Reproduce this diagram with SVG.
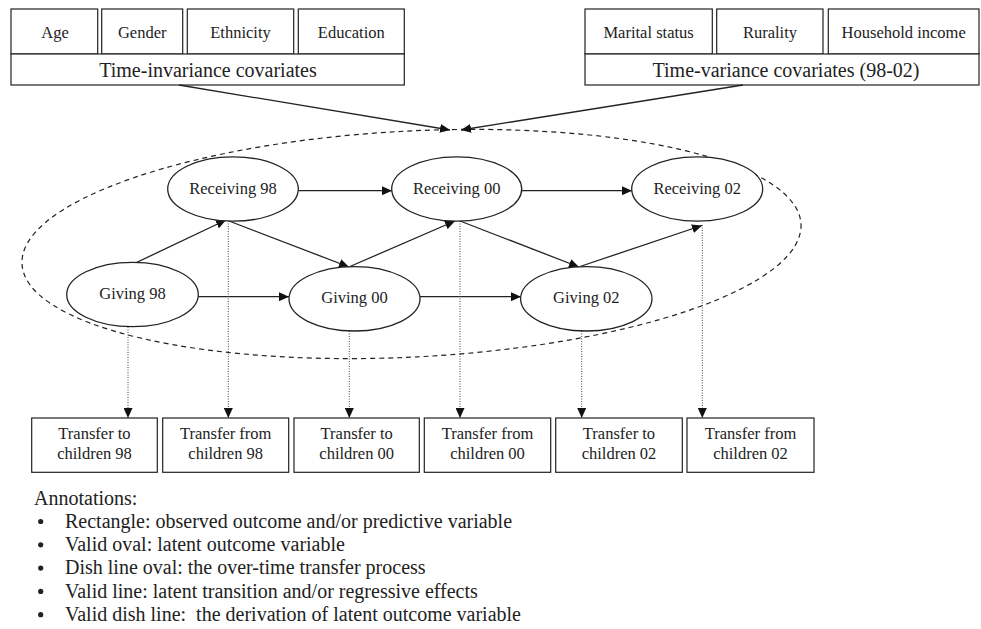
<svg xmlns="http://www.w3.org/2000/svg" width="981" height="629" viewBox="0 0 981 629">
<style>
  .box { fill: #fff; stroke: #222; stroke-width: 1.2; }
  .node { fill: #fff; stroke: #222; stroke-width: 1.3; }
  .t { font-family: "Liberation Serif", "Times New Roman", serif; fill: #222; text-anchor: middle; }
  .s { font-size: 16.5px; }
  .l { font-size: 20px; }
  .ann { font-family: "Liberation Serif", "Times New Roman", serif; fill: #222; font-size: 20px; white-space: pre; }
  .edge { stroke: #222; stroke-width: 1.3; fill: none; marker-end: url(#arr); }
  .dot { stroke: #444; stroke-width: 1; stroke-dasharray: 1 1.5; fill: none; marker-end: url(#arr); }
  .proc { fill: none; stroke: #222; stroke-width: 1.2; stroke-dasharray: 5 4; }
</style>
<defs>
  <marker id="arr" markerUnits="userSpaceOnUse" markerWidth="11" markerHeight="9" refX="10" refY="4.5" orient="auto">
    <path d="M0,0 L10,4.5 L0,9 Z" fill="#111"/>
  </marker>
</defs>
<rect width="981" height="629" fill="#fff"/>

<!-- Over-time transfer process (dashed oval) -->
<ellipse id="process" class="proc" cx="411.5" cy="244" rx="390" ry="113" transform="rotate(-2.94 411.5 244)"/>

<!-- Time-invariance covariates -->
<g id="time-invariance">
  <rect class="box" x="11" y="9" width="86.7" height="45"/>
  <rect class="box" x="101.7" y="9" width="81" height="45"/>
  <rect class="box" x="187.3" y="9" width="106.4" height="45"/>
  <rect class="box" x="298.3" y="9" width="106" height="45"/>
  <rect class="box" x="11" y="54" width="393.3" height="31"/>
  <text class="t s" x="55" y="38">Age</text>
  <text class="t s" x="142.2" y="38">Gender</text>
  <text class="t s" x="240.5" y="38">Ethnicity</text>
  <text class="t s" x="351.3" y="38">Education</text>
  <text class="t l" x="208" y="77">Time-invariance covariates</text>
</g>

<!-- Time-variance covariates -->
<g id="time-variance">
  <rect class="box" x="585" y="9" width="127.3" height="45"/>
  <rect class="box" x="716.7" y="9" width="106.3" height="45"/>
  <rect class="box" x="828.3" y="9" width="150.7" height="45"/>
  <rect class="box" x="585" y="54" width="394" height="31"/>
  <text class="t s" x="648.6" y="38">Marital status</text>
  <text class="t s" x="770" y="38">Rurality</text>
  <text class="t s" x="903.7" y="38">Household income</text>
  <text class="t l" x="786" y="77">Time-variance covariates (98-02)</text>
</g>

<!-- Connectors -->
<g id="connectors">
  <line class="edge" x1="179" y1="85" x2="450" y2="130"/>
  <line class="edge" x1="743" y1="85" x2="461" y2="130"/>
  <line class="edge" x1="298.5" y1="190.7" x2="392" y2="190.7"/>
  <line class="edge" x1="522" y1="190.7" x2="632" y2="190.7"/>
  <line class="edge" x1="198.5" y1="296.7" x2="289" y2="296.7"/>
  <line class="edge" x1="420" y1="296.7" x2="521" y2="296.7"/>
  <line class="edge" x1="127" y1="267" x2="226" y2="220"/>
  <line class="edge" x1="229" y1="221" x2="349" y2="267"/>
  <line class="edge" x1="350" y1="266.5" x2="455" y2="221"/>
  <line class="edge" x1="460" y1="221" x2="579" y2="267"/>
  <line class="edge" x1="580" y1="266.5" x2="702" y2="225.5"/>
  <line class="dot" x1="128" y1="327" x2="128" y2="418"/>
  <line class="dot" x1="228.3" y1="221" x2="228.3" y2="418"/>
  <line class="dot" x1="349.3" y1="331" x2="349.3" y2="418"/>
  <line class="dot" x1="460" y1="221" x2="460" y2="418"/>
  <line class="dot" x1="581.7" y1="331" x2="581.7" y2="418"/>
  <line class="dot" x1="702.3" y1="225" x2="702.3" y2="418"/>
</g>

<!-- Latent nodes -->
<g id="receiving98"><ellipse class="node" cx="233" cy="189" rx="65.3" ry="32.2"/><text class="t s" x="233" y="193.5">Receiving 98</text></g>
<g id="receiving00"><ellipse class="node" cx="456.7" cy="189" rx="65" ry="32.2"/><text class="t s" x="456.7" y="193.5">Receiving 00</text></g>
<g id="receiving02"><ellipse class="node" cx="697.2" cy="189" rx="65.5" ry="32.2"/><text class="t s" x="697.2" y="193.5">Receiving 02</text></g>
<g id="giving98"><ellipse class="node" cx="132.5" cy="294.5" rx="65.8" ry="32.2"/><text class="t s" x="132.5" y="299">Giving 98</text></g>
<g id="giving00"><ellipse class="node" cx="354.5" cy="298.8" rx="65.5" ry="32.2"/><text class="t s" x="354.5" y="302.5">Giving 00</text></g>
<g id="giving02"><ellipse class="node" cx="586.3" cy="298.8" rx="65.7" ry="32.2"/><text class="t s" x="586.3" y="302.5">Giving 02</text></g>

<!-- Observed outcomes -->
<g id="to98"><rect class="box" x="31.7" y="418" width="125.6" height="54.3"/><text class="t s" x="94.5" y="439">Transfer to</text><text class="t s" x="94.5" y="459">children 98</text></g>
<g id="from98"><rect class="box" x="162.7" y="418" width="126" height="54.3"/><text class="t s" x="225.7" y="439">Transfer from</text><text class="t s" x="225.7" y="459">children 98</text></g>
<g id="to00"><rect class="box" x="294" y="418" width="125.3" height="54.3"/><text class="t s" x="356.7" y="439">Transfer to</text><text class="t s" x="356.7" y="459">children 00</text></g>
<g id="from00"><rect class="box" x="424.3" y="418" width="126.4" height="54.3"/><text class="t s" x="487.5" y="439">Transfer from</text><text class="t s" x="487.5" y="459">children 00</text></g>
<g id="to02"><rect class="box" x="555.7" y="418" width="126.6" height="54.3"/><text class="t s" x="619" y="439">Transfer to</text><text class="t s" x="619" y="459">children 02</text></g>
<g id="from02"><rect class="box" x="687" y="418" width="127" height="54.3"/><text class="t s" x="750.5" y="439">Transfer from</text><text class="t s" x="750.5" y="459">children 02</text></g>

<!-- Annotations -->
<g id="annotations">
  <text class="ann" x="34" y="504.5">Annotations:</text>
  <circle cx="40.7" cy="521.5" r="2.6" fill="#222"/>
  <text class="ann" x="65" y="527.8">Rectangle: observed outcome and/or predictive variable</text>
  <circle cx="40.7" cy="544.8" r="2.6" fill="#222"/>
  <text class="ann" x="65" y="551.1">Valid oval: latent outcome variable</text>
  <circle cx="40.7" cy="568.1" r="2.6" fill="#222"/>
  <text class="ann" x="65" y="574.4">Dish line oval: the over-time transfer process</text>
  <circle cx="40.7" cy="591.4" r="2.6" fill="#222"/>
  <text class="ann" x="65" y="597.7">Valid line: latent transition and/or regressive effects</text>
  <circle cx="40.7" cy="614.7" r="2.6" fill="#222"/>
  <text class="ann" x="65" y="621">Valid dish line:  the derivation of latent outcome variable</text>
</g>
</svg>
